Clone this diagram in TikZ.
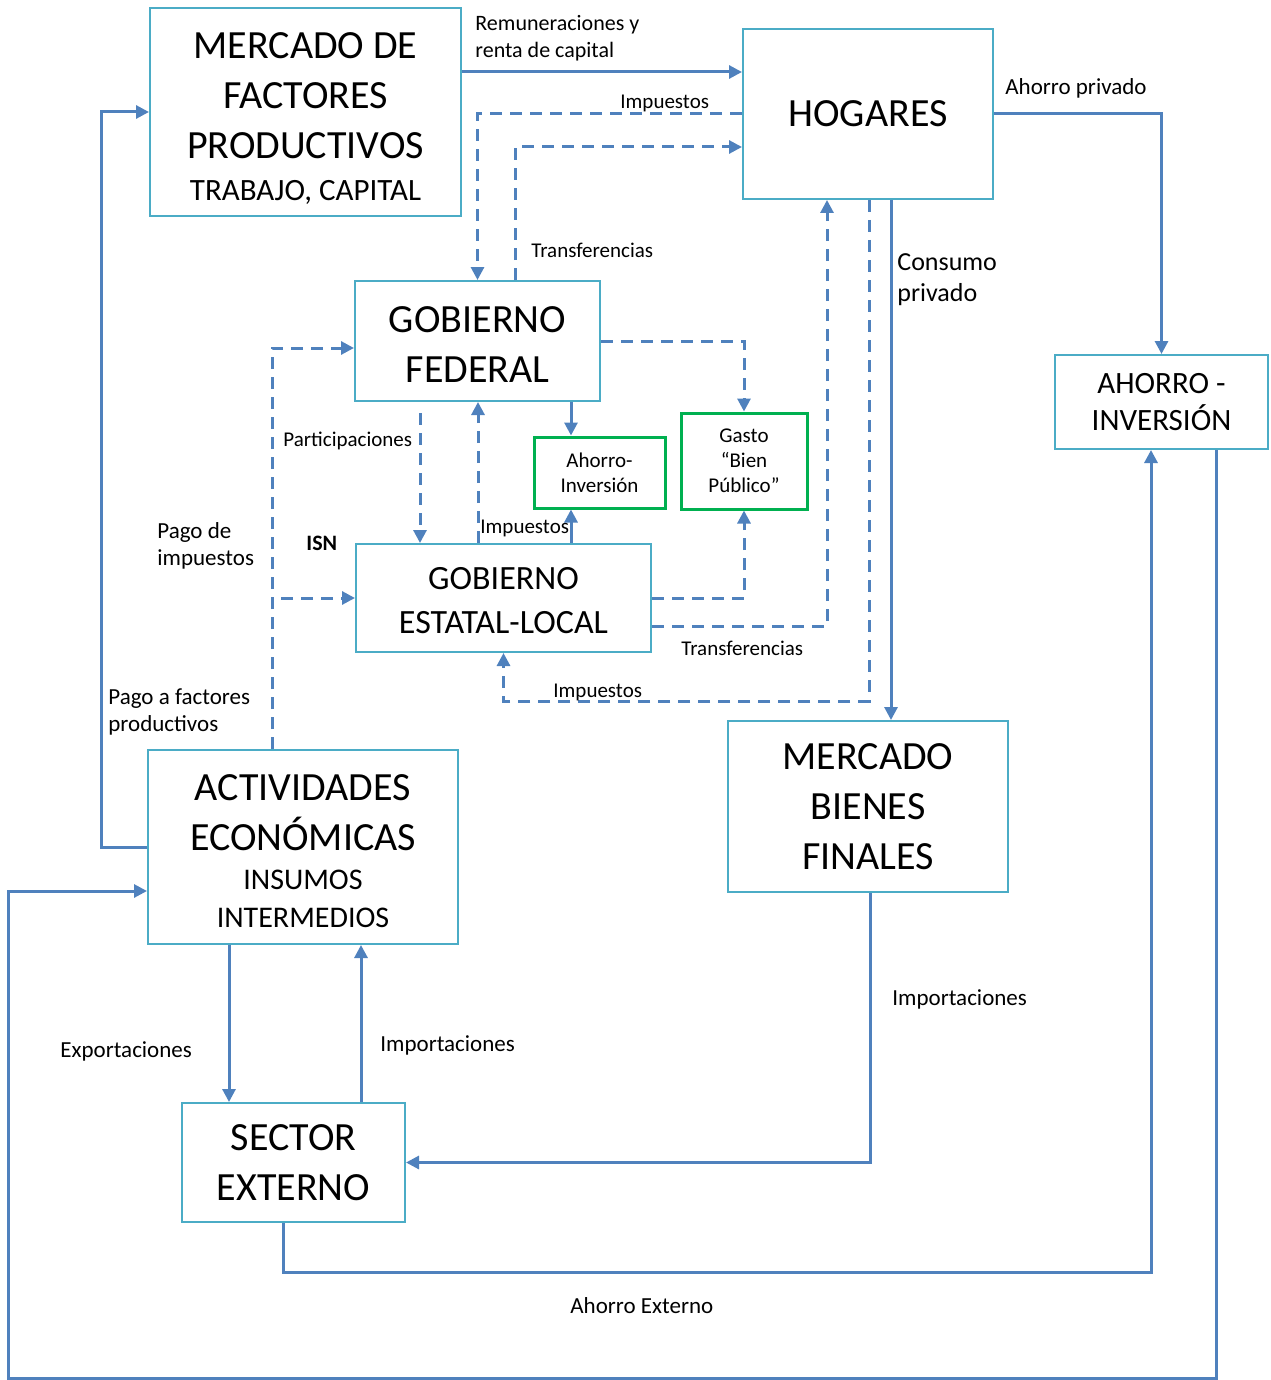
\documentclass[tikz,border=0pt]{standalone}
\usepackage{fontspec}
\setmainfont{Carlito}
\usetikzlibrary{arrows.meta}
\definecolor{BoxCyan}{HTML}{4BACC6}
\definecolor{FlowBlue}{HTML}{4F81BD}
\definecolor{SaveGreen}{HTML}{00B050}

\begin{document}
\begin{tikzpicture}[x=0.5pt, y=-0.5pt,
  box/.style={draw=BoxCyan, line width=1pt, inner sep=0pt, align=center,
              font=\fontsize{20}{25}\selectfont},
  gbox/.style={draw=SaveGreen, line width=1.5pt, inner sep=0pt, align=center,
               font=\fontsize{10.5}{12.5}\selectfont},
  note/.style={anchor=west, align=left, inner sep=0pt,
               font=\fontsize{11.5}{13.5}\selectfont},
  small/.style={note, font=\fontsize{10.5}{13}\selectfont},
  flow/.style={draw=FlowBlue, line width=1.5pt, -{Triangle[length=6.5pt,width=6.5pt]}},
  dflow/.style={flow, dash pattern=on 6pt off 4pt}
]
  \useasboundingbox (0,0) rectangle (1270,1380);

  \node[box, minimum width=155.5pt, minimum height=104pt] (fac) at (305.5,112)
    {\rule{0pt}{19pt}MERCADO DE\\FACTORES\\PRODUCTIVOS\\[-4pt]
     {\fontsize{15.5}{19}\selectfont TRABAJO, CAPITAL}};
  \node[box, minimum width=125pt, minimum height=85pt] (hog) at (868,114) {HOGARES};
  \node[box, minimum width=122.5pt, minimum height=60pt] (fed) at (477.5,341)
    {\rule{0pt}{16pt}GOBIERNO\\FEDERAL};
  \node[box, minimum width=147.5pt, minimum height=54pt,
        font=\fontsize{17}{22}\selectfont] (est) at (503.5,598)
    {\rule{0pt}{14pt}GOBIERNO\\ESTATAL-LOCAL};
  \node[gbox, minimum width=65.5pt, minimum height=35.5pt] (aif) at (599.5,472.5)
    {Ahorro-\\Inversión};
  \node[gbox, minimum width=63pt, minimum height=48pt] (gasto) at (744,461)
    {Gasto\\“Bien\\Público”};
  \node[box, minimum width=106.5pt, minimum height=47pt,
        font=\fontsize{15.5}{18.5}\selectfont] (ahi) at (1161.5,402)
    {AHORRO -\\INVERSIÓN};
  \node[box, minimum width=155pt, minimum height=97pt] (act) at (303,847)
    {\rule{0pt}{17pt}ACTIVIDADES\\ECONÓMICAS\\[-5.5pt]
     {\fontsize{15}{19}\selectfont INSUMOS}\\[-6pt]
     {\fontsize{15}{19}\selectfont INTERMEDIOS}};
  \node[box, minimum width=140pt, minimum height=85.5pt] (mbf) at (868,806.5)
    {MERCADO\\BIENES\\FINALES};
  \node[box, minimum width=111.5pt, minimum height=59.5pt] (sec) at (293.5,1162.5)
    {SECTOR\\EXTERNO};

  \draw[flow] (fac.east |- 0,72) -- (hog.west |- 0,72);
  \draw[flow] (hog.east) -| (ahi.north);
  \draw[flow] (hog.south -| 891,0) -- (mbf.north -| 891,0);
  \draw[flow] (act.west) -- ++(-46,0) |- (fac.west);
  \draw[flow] (ahi.south -| 1216,0) |- (8,1378) |- (act.west |- 0,891);
  \draw[flow] (act.south -| 229,0) -- (sec.north -| 229,0);
  \draw[flow] (sec.north -| 361,0) -- (act.south -| 361,0);
  \draw[flow] (mbf.south -| 870,0) |- (sec.east);
  \draw[flow] (sec.south -| 283,0) -- ++(0,49) -| (ahi.south -| 1151,0);
  \draw[flow] (fed.south -| 571,0) -- (aif.north -| 571,0);
  \draw[flow] (est.north -| 571,0) -- (aif.south -| 571,0);

  \draw[dflow] (hog.west) -| (fed.north);
  \draw[dflow] (fed.north -| 515,0) |- (hog.west |- 0,147);
  \draw[dflow] (act.north -| 272,0) |- (fed.west |- 0,348);
  \draw[dflow] (act.north -| 272,0) |- (est.west);
  \draw[dflow] (fed.south -| 420,0) ++(0,11) -- (est.north -| 420,0);
  \draw[dflow] (est.north -| 478,0) -- (fed.south -| 478,0);
  \draw[dflow] (fed.east) -| (gasto.north);
  \draw[dflow] (est.east) -| (gasto.south);
  \draw[dflow] (est.east |- 0,626) -| (hog.south -| 827,0);
  \draw[dflow] (hog.south -| 869,0) -- ++(0,501) -| (est.south);

  \node[note, font=\fontsize{11}{13.5}\selectfont] (remlbl) at (475,38)
    {Remuneraciones y\\renta de capital};
  \node[small] (imphog) at (620,103) {Impuestos};
  \node[small] (trfed) at (531,250) {Transferencias};
  \node[note] (ahplbl) at (1005,88) {Ahorro privado};
  \node[note, font=\fontsize{13}{15.5}\selectfont] (conlbl) at (897,280)
    {Consumo\\privado};
  \node[small] (partlbl) at (283,441) {Participaciones};
  \node[note] (pimplbl) at (157,546) {Pago de\\impuestos};
  \node[note, font=\fontsize{11}{13}\selectfont\bfseries] (isnlbl) at (306,543) {ISN};
  \node[small] (impest) at (480,528) {Impuestos};
  \node[small] (trest) at (681,648) {Transferencias};
  \node[small] (impbot) at (553,692) {Impuestos};
  \node[note] (pfaclbl) at (108,712) {Pago a factores\\productivos};
  \node[note] (explbl) at (60,1051) {Exportaciones};
  \node[note] (implbl) at (380,1045) {Importaciones};
  \node[note] (impmbf) at (892,999) {Importaciones};
  \node[note] (aextlbl) at (570,1306) {Ahorro Externo};
\end{tikzpicture}
\end{document}
